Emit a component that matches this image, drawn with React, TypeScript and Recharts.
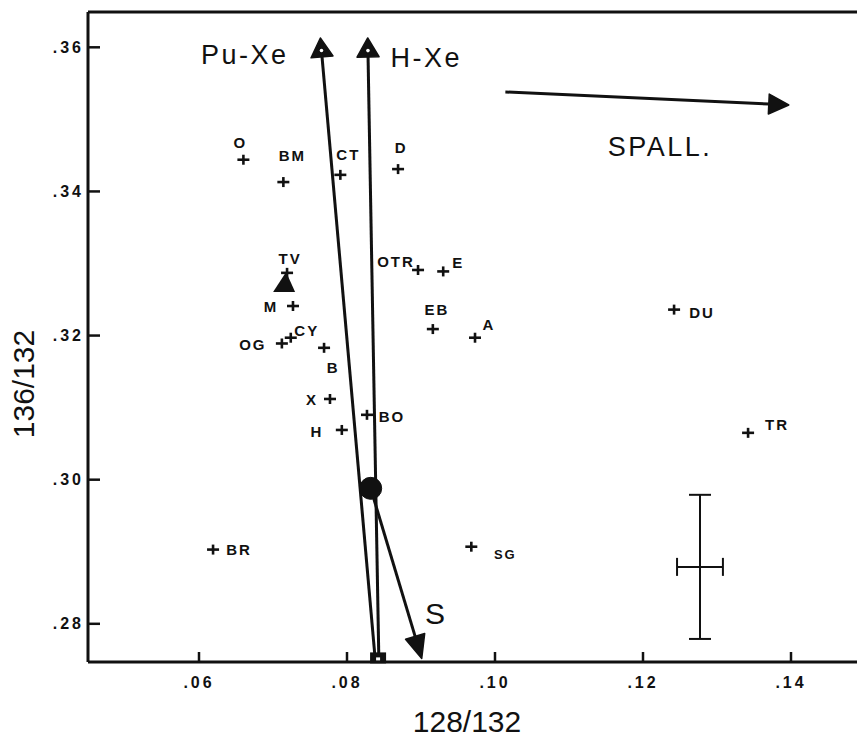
import React from "react";
import { ScatterChart, Scatter, XAxis, YAxis, ReferenceLine, ReferenceDot, ErrorBar, Label } from "recharts";

const INK = "#111";
const FONT = "'Liberation Sans', Arial, sans-serif";

// sample points (128/132 vs 136/132)
const sampleNames = ["O", "BM", "CT", "D", "TV", "M", "OG", "CY", "B", "X", "H", "BO", "OTR", "E", "EB", "A", "DU", "TR", "BR", "SG"];
const ratio128 = [0.0660, 0.0714, 0.0791, 0.0869, 0.0719, 0.0727, 0.0712, 0.0724, 0.0769, 0.0777, 0.0793, 0.0827, 0.0896, 0.0930, 0.0916, 0.0973, 0.1242, 0.1342, 0.0619, 0.0968];
const ratio136 = [0.3444, 0.3413, 0.3423, 0.3431, 0.3287, 0.3241, 0.3189, 0.3197, 0.3183, 0.3112, 0.3069, 0.3090, 0.3291, 0.3289, 0.3209, 0.3197, 0.3236, 0.3065, 0.2903, 0.2907];

// filled triangle marker
const triangle128 = [0.0715];
const triangle136 = [0.3273];

// typical error
const errCenter = [0.1277, 0.2879];
const err128 = 0.0031;
const err136 = 0.0100;

// end members and mixing lines
const origin = [0.0842, 0.2752]; // square
const trapped = [0.0832, 0.2988]; // circle
const puXeTip = [0.0764, 0.3613];
const hXeTip = [0.0828, 0.3613];
const sTip = [0.0901, 0.2752];
const spallFrom = [0.1014, 0.3538];
const spallTo = [0.1397, 0.3520];

const notes = [
  { text: "Pu-Xe", x: 0.0662, y: 0.3590 },
  { text: "H-Xe", x: 0.0907, y: 0.3585 },
  { text: "SPALL.", x: 0.1223, y: 0.3461 },
  { text: "S", x: 0.0919, y: 0.2814 },
];

const xTicks = [0.06, 0.08, 0.10, 0.12, 0.14];
const yTicks = [0.28, 0.30, 0.32, 0.34, 0.36];
const topTicks = [0.06, 0.08, 0.10, 0.1255, 0.1431];
const rightTicks = [0.2785, 0.2984, 0.3183, 0.3385];

// label placement relative to the cross (dx, dy, font size)
const labelSpots: Record<string, [number, number, number?]> = {
  O: [-3, -17], BM: [9, -27], CT: [8, -20], D: [3, -22], TV: [3, -14],
  M: [-22, 0], OG: [-29, 1], CY: [16, -7], B: [9, 20], X: [-18, 1],
  H: [-25, 2], BO: [25, 2], OTR: [-22, -8], E: [15, -9], EB: [4, -20],
  A: [14, -13], DU: [28, 3], TR: [29, -8], BR: [26, 0], SG: [34, 8, 13],
};

const samples = sampleNames.map((name, i) => ({ name, x: ratio128[i], y: ratio136[i] }));
const triangles = triangle128.map((x, i) => ({ x, y: triangle136[i] }));
const errPoint = [{ x: errCenter[0], y: errCenter[1], ex: err128, ey: err136 }];

const fmt = (v: number) => v.toFixed(2).replace(/^0/, "");

const Cross = (props: any) => {
  const { cx, cy, payload } = props;
  const [dx, dy, fs] = labelSpots[payload.name] ?? [14, 0];
  return (
    <g>
      <line x1={cx - 6} y1={cy} x2={cx + 6} y2={cy} stroke={INK} strokeWidth={2.6} />
      <line x1={cx} y1={cy - 5} x2={cx} y2={cy + 5} stroke={INK} strokeWidth={2.6} />
      <text x={cx + dx} y={cy + dy} textAnchor="middle" dominantBaseline="central"
        fontFamily={FONT} fontWeight="bold" fontSize={fs ?? 15} letterSpacing={2} fill={INK}>
        {payload.name}
      </text>
    </g>
  );
};

const Triangle = (props: any) => {
  const { cx, cy } = props;
  return <polygon points={`${cx + 2},${cy - 11} ${cx + 11},${cy + 9} ${cx - 11},${cy + 9}`} fill={INK} />;
};

const arrow = (len: number, half: number, dot = false) => (p: any) => {
  const { x1, y1, x2, y2 } = p;
  const ang = Math.atan2(y2 - y1, x2 - x1);
  const bx = x2 - len * Math.cos(ang);
  const by = y2 - len * Math.sin(ang);
  const nx = -Math.sin(ang) * half;
  const ny = Math.cos(ang) * half;
  return (
    <g>
      <line x1={x1} y1={y1} x2={bx} y2={by} stroke={INK} strokeWidth={3} />
      <polygon points={`${x2},${y2} ${bx + nx},${by + ny} ${bx - nx},${by - ny}`} fill={INK} stroke={INK} strokeWidth={1.5} strokeLinejoin="round" />
      {dot && <circle cx={(x2 + 2 * bx) / 3} cy={(y2 + 2 * by) / 3} r={1.8} fill="#fff" />}
    </g>
  );
};

const Note = (text: string) => (p: any) => (
  <text x={p.cx} y={p.cy} textAnchor="middle" dominantBaseline="central"
    fontFamily={FONT} fontSize={text === "S" ? 30 : 27} letterSpacing={text === "S" ? 0 : 2.5} fill={INK}>
    {text}
  </text>
);

const Square = (p: any) => (
  <g>
    <rect x={p.cx - 8} y={p.cy - 6} width={16} height={11} fill={INK} />
    <rect x={p.cx - 2} y={p.cy - 1} width={4} height={3} fill="#fff" />
  </g>
);

const axisLine = { stroke: INK, strokeWidth: 3 };
const tickLine = { stroke: INK, strokeWidth: 2.5 };
const tickText = { fill: INK, fontFamily: FONT, fontWeight: "bold", fontSize: 16, letterSpacing: 3 };

export default function App() {
  return (
    <div style={{ position: "absolute", left: 0, top: 0, width: 857, height: 738, overflow: "hidden", background: "#fff" }}>
      <ScatterChart width={900} height={738} margin={{ top: 0, right: 0, bottom: 0, left: 0 }}>
        <XAxis xAxisId="bottom" type="number" dataKey="x" domain={[0.045, 0.15]} allowDataOverflow
          ticks={xTicks} tickFormatter={fmt} height={76} axisLine={axisLine} tickLine={tickLine}
          tickSize={-10} tickMargin={25} tick={tickText}>
          <Label content={(p: any) => {
            const vb = p.viewBox;
            return (
              <text x={vb.x + 379} y={vb.y + 59} textAnchor="middle" dominantBaseline="central"
                fontFamily={FONT} fontSize={30} fill={INK}>128/132</text>
            );
          }} />
        </XAxis>
        <XAxis xAxisId="top" orientation="top" type="number" domain={[0.045, 0.15]} allowDataOverflow
          ticks={topTicks} height={12} axisLine={axisLine} tickLine={tickLine} tickSize={-9} tick={false} />
        <YAxis yAxisId="left" type="number" dataKey="y" domain={[0.2747, 0.3649]} allowDataOverflow
          ticks={yTicks} tickFormatter={fmt} width={88} axisLine={axisLine} tickLine={tickLine}
          tickSize={-12} tickMargin={16} tick={tickText}>
          <Label content={(p: any) => {
            const vb = p.viewBox;
            const cx = vb.x + 23;
            const cy = vb.y + vb.height / 2 + 47;
            return (
              <text x={cx} y={cy} transform={`rotate(-90 ${cx} ${cy})`} textAnchor="middle"
                dominantBaseline="central" fontFamily={FONT} fontSize={30} fill={INK}>136/132</text>
            );
          }} />
        </YAxis>
        <YAxis yAxisId="right" orientation="right" type="number" domain={[0.2747, 0.3649]} allowDataOverflow
          ticks={rightTicks} width={35} axisLine={axisLine} tickLine={tickLine} tickSize={-13} tick={false} />

        <ReferenceLine xAxisId="bottom" yAxisId="left" ifOverflow="visible"
          segment={[{ x: origin[0] - 0.0004, y: origin[1] }, { x: puXeTip[0], y: puXeTip[1] }]} shape={arrow(19, 11, true)} />
        <ReferenceLine xAxisId="bottom" yAxisId="left" ifOverflow="visible"
          segment={[{ x: origin[0] + 0.0001, y: origin[1] }, { x: hXeTip[0], y: hXeTip[1] }]} shape={arrow(19, 11, true)} />
        <ReferenceLine xAxisId="bottom" yAxisId="left" ifOverflow="visible"
          segment={[{ x: trapped[0], y: trapped[1] }, { x: sTip[0], y: sTip[1] }]} shape={arrow(23, 10)} />
        <ReferenceLine xAxisId="bottom" yAxisId="left" ifOverflow="visible"
          segment={[{ x: spallFrom[0], y: spallFrom[1] }, { x: spallTo[0], y: spallTo[1] }]} shape={arrow(20, 10)} />

        <ReferenceDot xAxisId="bottom" yAxisId="left" x={trapped[0]} y={trapped[1]} r={11} fill={INK} stroke={INK} ifOverflow="visible" />
        <ReferenceDot xAxisId="bottom" yAxisId="left" x={origin[0]} y={origin[1]} r={8} shape={Square} ifOverflow="visible" />
        {notes.map((n) => (
          <ReferenceDot key={n.text} xAxisId="bottom" yAxisId="left" x={n.x} y={n.y} r={1} shape={Note(n.text)} ifOverflow="visible" />
        ))}

        <Scatter xAxisId="bottom" yAxisId="left" data={triangles} shape={Triangle} isAnimationActive={false} />
        <Scatter xAxisId="bottom" yAxisId="left" data={samples} shape={Cross} isAnimationActive={false} />
        <Scatter xAxisId="bottom" yAxisId="left" data={errPoint} shape={() => <g />} isAnimationActive={false}>
          <ErrorBar dataKey="ex" direction="x" width={9} stroke={INK} strokeWidth={2} />
          <ErrorBar dataKey="ey" direction="y" width={11} stroke={INK} strokeWidth={2} />
        </Scatter>
      </ScatterChart>
    </div>
  );
}
